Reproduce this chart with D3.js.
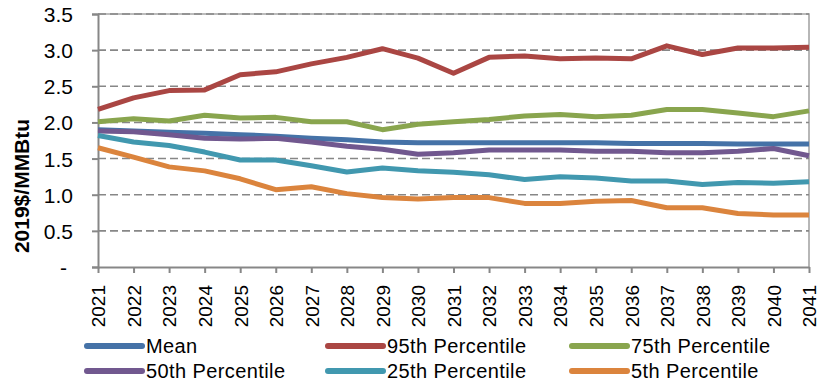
<!DOCTYPE html>
<html>
<head>
<meta charset="utf-8">
<script src="https://cdn.jsdelivr.net/npm/d3@7"></script>
<style>
  html, body { margin: 0; padding: 0; background: #fff; }
  svg { display: block; font-family: "Liberation Sans", Arial, sans-serif; }
</style>
</head>
<body>
<svg id="chart" width="819" height="383"></svg>
<script>
const years = [2021,2022,2023,2024,2025,2026,2027,2028,2029,2030,2031,2032,2033,2034,2035,2036,2037,2038,2039,2040,2041];
const seriesNames = ["Mean","95th Percentile","75th Percentile","50th Percentile","25th Percentile","5th Percentile"];
const seriesColors = ["#4572A7","#AA4643","#89A54E","#71588F","#4198AF","#DB843D"];
const meanValues = [1.90,1.88,1.865,1.85,1.83,1.81,1.78,1.76,1.73,1.72,1.72,1.72,1.72,1.72,1.72,1.71,1.71,1.71,1.70,1.70,1.70];
const p95Values  = [2.18,2.34,2.44,2.45,2.66,2.70,2.81,2.90,3.02,2.89,2.68,2.90,2.92,2.88,2.89,2.88,3.06,2.94,3.03,3.03,3.04];
const p75Values  = [2.01,2.05,2.02,2.10,2.06,2.07,2.01,2.01,1.90,1.975,2.01,2.04,2.09,2.11,2.08,2.10,2.18,2.18,2.13,2.08,2.16];
const p50Values  = [1.88,1.87,1.83,1.78,1.77,1.78,1.73,1.67,1.63,1.56,1.58,1.62,1.62,1.62,1.60,1.60,1.58,1.58,1.60,1.64,1.54];
const p25Values  = [1.82,1.73,1.68,1.59,1.48,1.48,1.40,1.315,1.37,1.33,1.31,1.275,1.21,1.25,1.23,1.19,1.19,1.14,1.17,1.16,1.18];
const p5Values   = [1.65,1.52,1.385,1.33,1.22,1.07,1.11,1.015,0.96,0.94,0.96,0.96,0.88,0.88,0.91,0.92,0.82,0.82,0.74,0.72,0.72];
const yTickValues = [0,0.5,1.0,1.5,2.0,2.5,3.0,3.5];
const yTickLabels = ["-","0.5","1.0","1.5","2.0","2.5","3.0","3.5"];
const yAxisTitle = "2019$/MMBtu";

const seriesValues = [meanValues,p95Values,p75Values,p50Values,p25Values,p5Values];

const svg = d3.select("#chart");
const plotLeft = 98, plotRight = 809, plotTop = 14, plotBottom = 267;

const x = d3.scalePoint().domain(years).range([plotLeft, plotRight]);
const y = d3.scaleLinear().domain([0, 3.5]).range([plotBottom, plotTop]);

const axisColor = "#878787";

// plot border (top + right)
svg.append("path")
  .attr("d", `M${plotLeft},${y(3.5)}H${plotRight}V${plotBottom}`)
  .attr("fill", "none").attr("stroke", "#a6a6a6").attr("stroke-width", 1.6);

// gridlines
svg.append("g").selectAll("line")
  .data(yTickValues.filter(v => v > 0))
  .join("line")
  .attr("x1", plotLeft).attr("x2", plotRight)
  .attr("y1", d => y(d)).attr("y2", d => y(d))
  .attr("stroke", axisColor).attr("stroke-width", 1.6)
  .attr("stroke-dasharray", "8,4");

// y axis
const yAxis = d3.axisLeft(y).tickValues(yTickValues)
  .tickFormat((d, i) => yTickLabels[i]).tickSize(6).tickPadding(20);
const gy = svg.append("g").attr("transform", `translate(${plotLeft},0)`).call(yAxis);
gy.select(".domain").attr("stroke", axisColor).attr("stroke-width", 2);
gy.selectAll(".tick line").attr("stroke", axisColor).attr("stroke-width", 2);
gy.selectAll(".tick text")
  .attr("fill", "#000").attr("font-size", "21px")
  .attr("font-family", "'Liberation Sans', Arial, sans-serif")
  .attr("x", d => d === 0 ? -31 : -25)
  .attr("dy", "0.36em");

// x axis
const xAxis = d3.axisBottom(x).tickSize(6).tickSizeOuter(0);
const gx = svg.append("g").attr("transform", `translate(0,${plotBottom})`).call(xAxis);
gx.select(".domain").attr("stroke", axisColor).attr("stroke-width", 2);
gx.selectAll(".tick line").attr("stroke", axisColor).attr("stroke-width", 2);
gx.selectAll(".tick text")
  .attr("fill", "#000").attr("font-size", "19px")
  .attr("font-family", "'Liberation Sans', Arial, sans-serif")
  .attr("text-anchor", "end")
  .attr("transform", "rotate(-90)")
  .attr("x", -18).attr("y", 0).attr("dy", "0.36em");

// y title
svg.append("text")
  .attr("transform", `translate(29,186) rotate(-90)`)
  .attr("text-anchor", "middle")
  .attr("font-size", "21px").attr("font-weight", "bold")
  .text(yAxisTitle);

// lines
const line = d3.line().x((d, i) => x(years[i])).y(d => y(d));
svg.append("g").selectAll("path")
  .data(seriesValues)
  .join("path")
  .attr("d", d => line(d))
  .attr("fill", "none")
  .attr("stroke", (d, i) => seriesColors[i])
  .attr("stroke-width", 5)
  .attr("stroke-linejoin", "round");

// legend
const colX = [87, 328, 572];
const rowY = [346, 371];
const lg = svg.append("g").selectAll("g")
  .data(seriesNames)
  .join("g")
  .attr("transform", (d, i) => `translate(${colX[i % 3]},${rowY[Math.floor(i / 3)]})`);
lg.append("line")
  .attr("x1", 0).attr("x2", 55).attr("y1", 0).attr("y2", 0)
  .attr("stroke", (d, i) => seriesColors[i])
  .attr("stroke-width", 6).attr("stroke-linecap", "round");
lg.append("text")
  .attr("x", 59).attr("y", 0)
  .attr("dy", "0.35em")
  .attr("font-size", "20px")
  .attr("letter-spacing", "0.4px")
  .text(d => d);
</script>
</body>
</html>
